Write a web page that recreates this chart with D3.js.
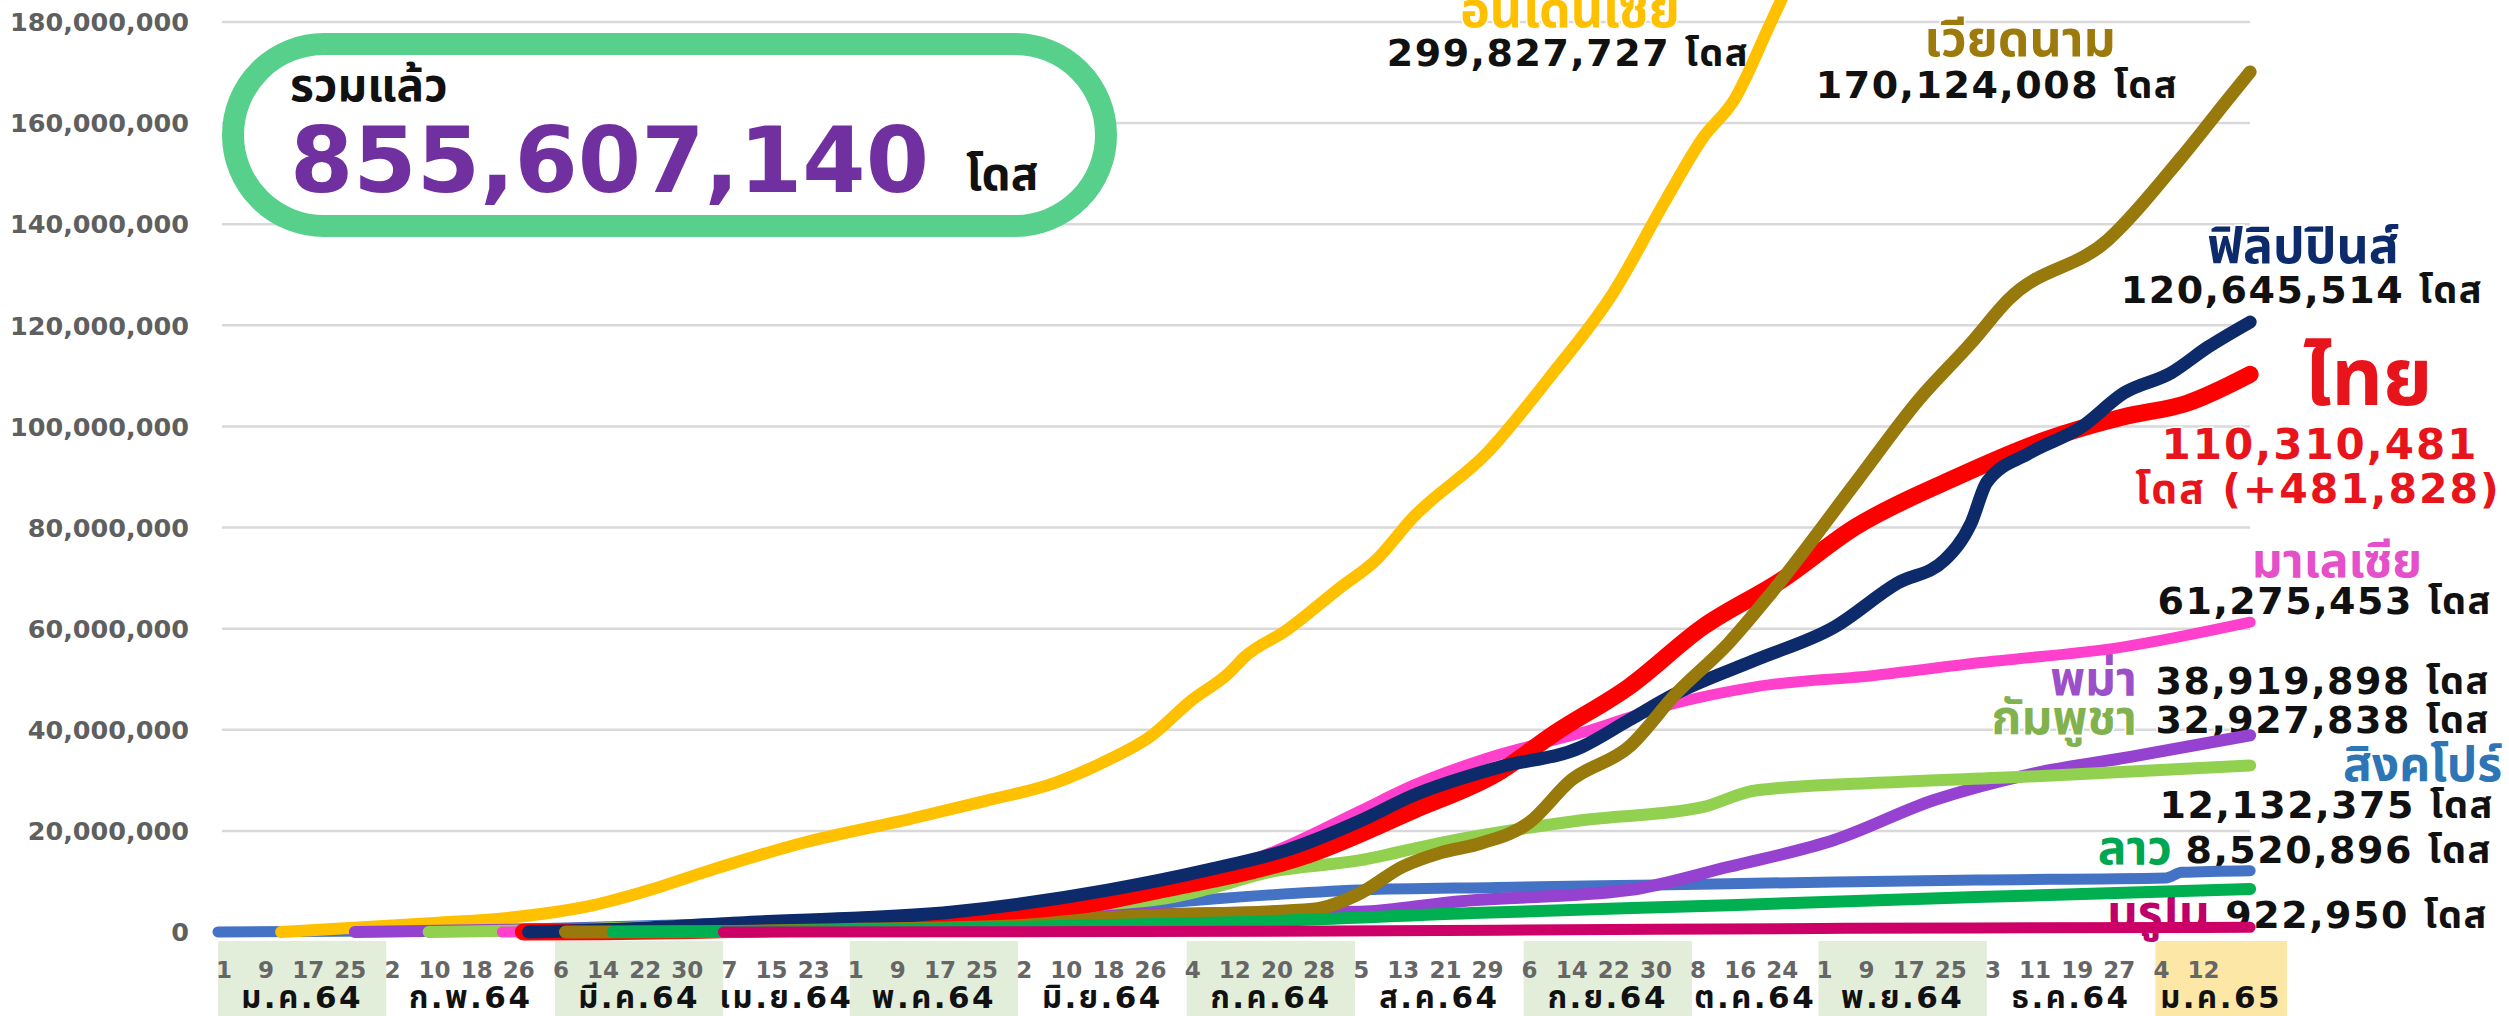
<!DOCTYPE html>
<html><head><meta charset="utf-8">
<script src="https://cdn.jsdelivr.net/npm/d3@7"></script>
<style>
html,body{margin:0;padding:0;background:#fff;overflow:hidden;}
svg{display:block;}
</style></head>
<body><svg id="chart" width="2509" height="1016"></svg>
<script>
// ---------- DATA (millions of cumulative doses) ----------
const singapore = [["2021-01-01",0.01],["2021-02-01",0.2],["2021-03-01",0.6],["2021-04-01",1.5],["2021-05-01",2.8],["2021-06-01",4.0],["2021-06-29",5.7],["2021-07-15",7.0],["2021-08-06",8.3],["2021-09-01",8.8],["2021-10-01",9.3],["2021-11-04",9.9],["2021-12-01",10.3],["2022-01-06",10.7],["2022-01-09",11.8],["2022-01-22",12.13]];
const indonesia = [["2021-01-13",0],["2021-01-26",0.8],["2021-02-11",1.8],["2021-02-27",3.0],["2021-03-12",5.0],["2021-03-24",8.3],["2021-04-03",11.7],["2021-04-22",17.6],["2021-05-13",22.5],["2021-05-27",26],["2021-06-09",29.5],["2021-06-19",34],["2021-06-27",38.6],["2021-07-05",45.9],["2021-07-12",51.2],["2021-07-15",54.4],["2021-07-23",59.7],["2021-08-02",68],["2021-08-09",73.6],["2021-08-16",82],["2021-08-30",94.7],["2021-09-11",109.8],["2021-09-23",126.4],["2021-10-03",144.8],["2021-10-10",157],["2021-10-16",164.6],["2021-10-23",180],["2021-11-01",200],["2021-12-01",240],["2022-01-01",280],["2022-01-22",299.83]];
const myanmar = [["2021-01-27",0],["2021-02-15",0.3],["2021-03-01",0.5],["2021-04-01",1.0],["2021-05-01",1.8],["2021-06-01",3.0],["2021-07-15",3.8],["2021-08-06",4.0],["2021-08-24",6.0],["2021-09-26",8.3],["2021-10-15",12.9],["2021-11-04",18.2],["2021-11-23",26.1],["2021-12-12",31.4],["2021-12-30",34.6],["2022-01-22",38.92]];
const cambodia = [["2021-02-10",0],["2021-03-01",0.3],["2021-04-01",1.2],["2021-05-01",2.5],["2021-06-01",4.5],["2021-06-29",6.5],["2021-07-08",8.5],["2021-07-19",11.7],["2021-08-06",14.2],["2021-08-21",17.6],["2021-09-17",22.1],["2021-10-10",24.7],["2021-10-20",28.0],["2021-11-12",29.5],["2021-12-10",30.7],["2022-01-22",32.93]];
const malaysia = [["2021-02-24",0],["2021-03-15",0.3],["2021-04-01",0.7],["2021-05-01",1.4],["2021-06-01",3.0],["2021-06-19",5.5],["2021-07-08",11],["2021-07-23",17],["2021-08-06",24],["2021-08-16",29],["2021-09-01",35],["2021-09-17",39.4],["2021-10-05",45.3],["2021-10-20",48.5],["2021-11-12",50.8],["2021-12-01",53.2],["2021-12-29",56.4],["2022-01-22",61.28]];
const thailand = [["2021-02-28",0],["2021-03-15",0.05],["2021-04-01",0.3],["2021-05-01",1.3],["2021-05-31",3.0],["2021-06-29",8.3],["2021-07-28",15.6],["2021-08-16",24.0],["2021-09-01",31.4],["2021-09-12",39.4],["2021-09-26",48.5],["2021-10-10",60.3],["2021-10-25",69.6],["2021-11-08",80.1],["2021-11-26",89.4],["2021-12-14",97.3],["2021-12-29",101.9],["2022-01-10",104.6],["2022-01-22",110.31]];
const philippines = [["2021-03-01",0],["2021-03-24",0.8],["2021-04-10",1.8],["2021-05-21",4.0],["2021-06-19",8.3],["2021-07-08",12.3],["2021-07-23",16.2],["2021-08-06",22],["2021-08-16",27],["2021-09-01",32.5],["2021-09-17",36.6],["2021-09-26",41.9],["2021-10-05",47.2],["2021-10-20",53.8],["2021-11-04",60.3],["2021-11-16",69],["2021-11-25",73.6],["2021-11-30",80.9],["2021-12-03",89],["2021-12-11",94.7],["2021-12-21",99.9],["2021-12-29",106.6],["2022-01-07",110.6],["2022-01-14",115.7],["2022-01-22",120.65]];
const vietnam = [["2021-03-08",0],["2021-04-01",0.05],["2021-05-01",0.5],["2021-06-01",1.2],["2021-06-19",2.8],["2021-07-28",4.5],["2021-08-06",7.7],["2021-08-14",12.9],["2021-08-21",15.6],["2021-08-29",17.6],["2021-09-07",21.6],["2021-09-15",30],["2021-09-26",36.6],["2021-10-05",47.2],["2021-10-15",57.2],["2021-10-23",67],["2021-11-08",88.8],["2021-11-20",105.2],["2021-11-30",116.5],["2021-12-07",125],["2021-12-26",136.9],["2022-01-09",153.3],["2022-01-18",165],["2022-01-22",170.12]];
const laos = [["2021-03-17",0],["2021-04-15",0.2],["2021-05-15",0.6],["2021-06-15",1.3],["2021-07-15",2.0],["2021-08-29",3.8],["2021-10-15",5.3],["2021-12-01",6.9],["2022-01-22",8.52]];
const brunei = [["2021-04-07",0],["2021-06-01",0.05],["2021-08-01",0.2],["2021-09-01",0.35],["2021-10-01",0.55],["2021-11-01",0.7],["2021-12-01",0.8],["2022-01-22",0.92]];

const yTicks = [0,20,40,60,80,100,120,140,160,180];
const monthLabels = ["ม.ค.64","ก.พ.64","มี.ค.64","เม.ย.64","พ.ค.64","มิ.ย.64","ก.ค.64","ส.ค.64","ก.ย.64","ต.ค.64","พ.ย.64","ธ.ค.64","ม.ค.65"];
const monthStarts = ["2021-01","2021-02","2021-03","2021-04","2021-05","2021-06","2021-07","2021-08","2021-09","2021-10","2021-11","2021-12","2022-01"];
const tickDays = [[1,9,17,25],[2,10,18,26],[6,14,22,30],[7,15,23],[1,9,17,25],[2,10,18,26],[4,12,20,28],[5,13,21,29],[6,14,22,30],[8,16,24],[1,9,17,25],[3,11,19,27],[4,12]];

const totalLabel = "รวมแล้ว";
const totalValue = "855,607,140";
const doseWord = "โดส";
const finals = { indonesia: 299827727, vietnam: 170124008, philippines: 120645514, thailand: 110310481, thDaily: 481828,
  malaysia: 61275453, myanmar: 38919898, cambodia: 32927838, singapore: 12132375, laos: 8520896, brunei: 922950 };

// ---------- SETUP ----------
const svg = d3.select("#chart");
const parse = d3.timeParse("%Y-%m-%d");
const x = d3.scaleTime().domain([parse("2021-01-01"), parse("2022-01-29")]).range([218, 2287]);
const y = d3.scaleLinear().domain([0, 180]).range([932, 22]);
const thaiFont = "'Noto Sans Thai','Noto Sans Thai UI','Noto Looped Thai','Tahoma','Noto Sans',sans-serif";
const numFont = "'DejaVu Sans'," + thaiFont;
const fmt = d3.format(",");

// month bands
const tickDates = tickDays.map((days, i) => days.map(d => parse(monthStarts[i] + "-" + String(d).padStart(2, "0"))));
const bandG = svg.append("g");
monthLabels.forEach((m, i) => {
  const x0 = x(tickDates[i][0]);
  const x1 = i < monthLabels.length - 1 ? x(tickDates[i + 1][0]) : x.range()[1];
  const fill = i === monthLabels.length - 1 ? "#FDE7A6" : (i % 2 === 0 ? "#E3EEDA" : "#FFFFFF");
  bandG.append("rect").attr("x", x0).attr("y", 941).attr("width", x1 - x0).attr("height", 75).attr("fill", fill);
  bandG.append("text").attr("x", (x0 + x1) / 2).attr("y", 1008).attr("text-anchor", "middle")
    .attr("font-family", numFont).attr("font-weight", "bold").attr("font-size", 31).attr("letter-spacing", 2.5)
    .attr("fill", "#111").text(m);
  tickDates[i].forEach((d, j) => {
    bandG.append("text").attr("x", x(d) + 6).attr("y", 978).attr("text-anchor", "middle")
      .attr("font-family", numFont).attr("font-weight", "bold").attr("font-size", 23).attr("fill", "#666")
      .text(tickDays[i][j]);
  });
});

// gridlines + y labels
const gridG = svg.append("g");
yTicks.forEach(t => {
  if (t > 0) gridG.append("line").attr("x1", 222).attr("x2", 2250).attr("y1", y(t)).attr("y2", y(t))
    .attr("stroke", "#D9D9D9").attr("stroke-width", 2.5);
  gridG.append("text").attr("x", 189).attr("y", y(t)).attr("dy", "0.36em").attr("text-anchor", "end")
    .attr("font-family", "'DejaVu Sans',sans-serif").attr("font-weight", "bold").attr("font-size", 25.5).attr("fill", "#5f5f5f")
    .text(fmt(t * 1e6));
});

// total box
svg.append("rect").attr("x", 233).attr("y", 44).attr("width", 873).attr("height", 182).attr("rx", 91)
  .attr("fill", "#fff").attr("stroke", "#57D08B").attr("stroke-width", 22);
svg.append("text").attr("x", 290).attr("y", 101).attr("font-family", thaiFont).attr("font-weight", "bold")
  .attr("font-size", 46).attr("fill", "#111").text(totalLabel);
svg.append("text").attr("x", 290).attr("y", 192).attr("font-family", numFont).attr("font-weight", "bold")
  .attr("font-size", 91).attr("fill", "#7030A0").text(totalValue);
svg.append("text").attr("x", 966).attr("y", 190).attr("font-family", thaiFont).attr("font-weight", "bold")
  .attr("font-size", 46).attr("fill", "#111").text(doseWord);

// right-side labels
const lab = svg.append("g");
function T(txt, xx, yy, size, color, anchor, font, ls) {
  lab.append("text").attr("x", xx).attr("y", yy).attr("font-size", size).attr("fill", color)
    .attr("font-weight", "bold").attr("text-anchor", anchor || "middle").attr("font-family", font || numFont)
    .attr("letter-spacing", ls || 0)
    .attr("paint-order", "stroke").attr("stroke", "#fff").attr("stroke-width", 3).text(txt);
}
T("อินโดนีเซีย", 1570, 27, 50, "#FFC000", "middle", thaiFont);
T(fmt(finals.indonesia) + " " + doseWord, 1568, 66, 38, "#111", "middle", null, 1.5);
T("เวียดนาม", 2020, 56, 50, "#9C7A0C", "middle", thaiFont);
T(fmt(finals.vietnam) + " " + doseWord, 1997, 98, 38, "#111", "middle", null, 1.5);
T("ฟิลิปปินส์", 2303, 263, 50, "#0D2B6B", "middle", thaiFont);
T(fmt(finals.philippines) + " " + doseWord, 2302, 303, 38, "#111", "middle", null, 1.5);
T("ไทย", 2368, 405, 80, "#E8141C", "middle", thaiFont);
T(fmt(finals.thailand), 2320, 459, 42, "#E8141C", "middle", null, 2);
T(doseWord + " (+" + fmt(finals.thDaily) + ")", 2318, 503, 41, "#E8141C", "middle", null, 2);
T("มาเลเซีย", 2337, 577, 48, "#E54FC9", "middle", thaiFont);
T(fmt(finals.malaysia) + " " + doseWord, 2492, 614, 38, "#111", "end", null, 1.5);
T("พม่า", 2137, 695, 48, "#9B4FC8", "end", thaiFont);
T(fmt(finals.myanmar) + " " + doseWord, 2490, 694, 38, "#111", "end", null, 1.5);
T("กัมพูชา", 2137, 734, 48, "#82B24E", "end", thaiFont);
T(fmt(finals.cambodia) + " " + doseWord, 2490, 733, 38, "#111", "end", null, 1.5);
T("สิงคโปร์", 2502, 781, 48, "#2E75B6", "end", thaiFont);
T(fmt(finals.singapore) + " " + doseWord, 2494, 818, 38, "#111", "end", null, 1.5);
T("ลาว", 2172, 864, 48, "#00A650", "end", thaiFont);
T(fmt(finals.laos) + " " + doseWord, 2492, 863, 38, "#111", "end", null, 1.5);
T("บรูไน", 2210, 929, 48, "#C0006A", "end", thaiFont);
T(fmt(finals.brunei) + " " + doseWord, 2488, 928, 38, "#111", "end", null, 1.5);

// lines
const series = [
  { data: singapore, color: "#4472C4", w: 11 },
  { data: indonesia, color: "#FFC000", w: 12 },
  { data: myanmar, color: "#9442CF", w: 12 },
  { data: cambodia, color: "#92D050", w: 12 },
  { data: malaysia, color: "#FF40CC", w: 11 },
  { data: thailand, color: "#FF0000", w: 17 },
  { data: philippines, color: "#0D2A6B", w: 13 },
  { data: vietnam, color: "#977A0B", w: 13 },
  { data: laos, color: "#00B050", w: 12 },
  { data: brunei, color: "#CC0066", w: 11 }
];
const line = d3.line().x(d => x(parse(d[0]))).y(d => y(d[1])).curve(d3.curveMonotoneX);
const lineG = svg.append("g");
series.forEach(s => {
  lineG.append("path").attr("d", line(s.data)).attr("fill", "none").attr("stroke", s.color)
    .attr("stroke-width", s.w).attr("stroke-linecap", "round").attr("stroke-linejoin", "round");
});
</script>
</body></html>
